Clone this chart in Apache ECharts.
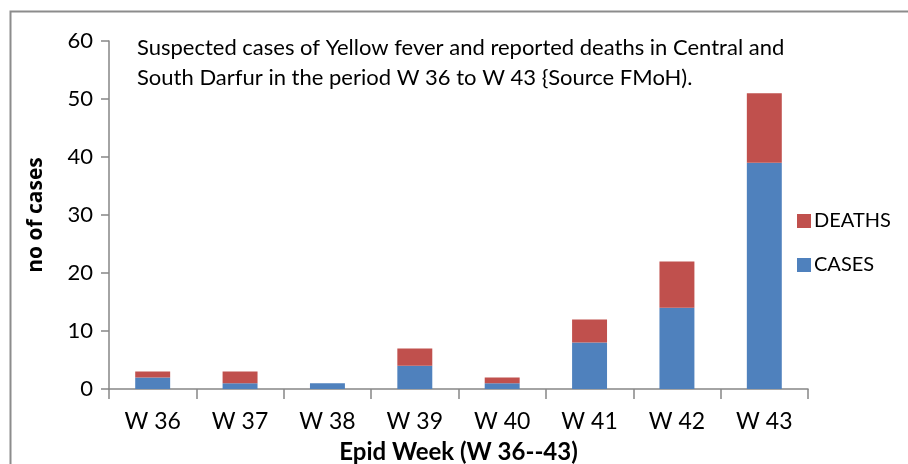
<!DOCTYPE html>
<html lang="en">

<head>
    <meta charset="UTF-8">
    <title>Yellow fever Darfur</title>
    <style>
        * {
            margin: 0;
            padding: 0;
        }

        html,
        body {
            width: 908px;
            height: 464px;
            background: #fff;
        }

        #main {
            width: 908px;
            height: 464px;
        }
    </style>
</head>

<body>
    <div id="main"></div>
</body>
<script src="https://cdn.jsdelivr.net/npm/echarts@6/dist/echarts.min.js"></script>
<script>
    // data
    const weeks = ['W 36', 'W 37', 'W 38', 'W 39', 'W 40', 'W 41', 'W 42', 'W 43']
    const cases = [2, 1, 1, 4, 1, 8, 14, 39]
    const deaths = [1, 2, 0, 3, 1, 4, 8, 12]
    const yTicks = [0, 10, 20, 30, 40, 50, 60]

    const font = 'Lato'
    let chart = echarts.init(document.getElementById('main'))

    const option = {
        animation: false,
        backgroundColor: '#fff',
        textStyle: { fontFamily: font },
        grid: {
            left: 109,
            right: 100,
            top: 41,
            bottom: 75,
            outerBoundsMode: 'none'
        },
        graphic: [{
            // outer frame, only top and left visible
            type: 'rect',
            shape: { x: 10.5, y: 11.5, width: 1000, height: 600 },
            style: { fill: 'none', stroke: '#8c8c8c', lineWidth: 2 }
        }, {
            type: 'text',
            left: 137,
            top: 33,
            style: {
                text: 'Suspected cases of Yellow fever and reported deaths in Central and\nSouth Darfur in the period W 36 to W 43 {Source FMoH).',
                font: '22px Lato',
                lineHeight: 30,
                fill: '#000'
            }
        }],
        legend: {
            orient: 'vertical',
            left: 792,
            top: 206,
            itemWidth: 14,
            itemHeight: 14,
            itemGap: 24,
            icon: 'rect',
            data: ['DEATHS', 'CASES'],
            textStyle: { fontSize: 20, color: '#000', fontFamily: font, padding: [0, 0, 0, -2] }
        },
        xAxis: {
            type: 'category',
            data: weeks,
            name: 'Epid Week (W 36--43)',
            nameLocation: 'middle',
            nameGap: 51,
            nameTextStyle: { fontSize: 24, fontWeight: 'bold', color: '#000', fontFamily: font },
            axisLine: { lineStyle: { color: '#868686', width: 1.5 } },
            axisTick: { show: true, length: 10, lineStyle: { color: '#868686', width: 1.5 } },
            axisLabel: { fontSize: 23, color: '#000', margin: 21, fontFamily: font }
        },
        yAxis: {
            type: 'value',
            min: yTicks[0],
            max: yTicks[yTicks.length - 1],
            interval: 10,
            name: 'no of cases',
            nameLocation: 'middle',
            nameGap: 62,
            nameRotate: 90,
            nameTextStyle: { fontSize: 21, fontWeight: 'bold', color: '#000', fontFamily: 'Open Sans' },
            splitLine: { show: false },
            axisLine: { show: true, lineStyle: { color: '#868686', width: 1.5 } },
            axisTick: { show: true, length: 8, lineStyle: { color: '#868686', width: 1.5 } },
            axisLabel: { fontSize: 22, color: '#000', margin: 16, fontFamily: font }
        },
        series: [{
            name: 'CASES',
            type: 'bar',
            stack: 'total',
            barWidth: '40%',
            itemStyle: { color: '#4F81BD' },
            data: cases
        }, {
            name: 'DEATHS',
            type: 'bar',
            stack: 'total',
            itemStyle: { color: '#C0504D' },
            data: deaths
        }]
    }
    chart.setOption(option)
</script>

</html>
